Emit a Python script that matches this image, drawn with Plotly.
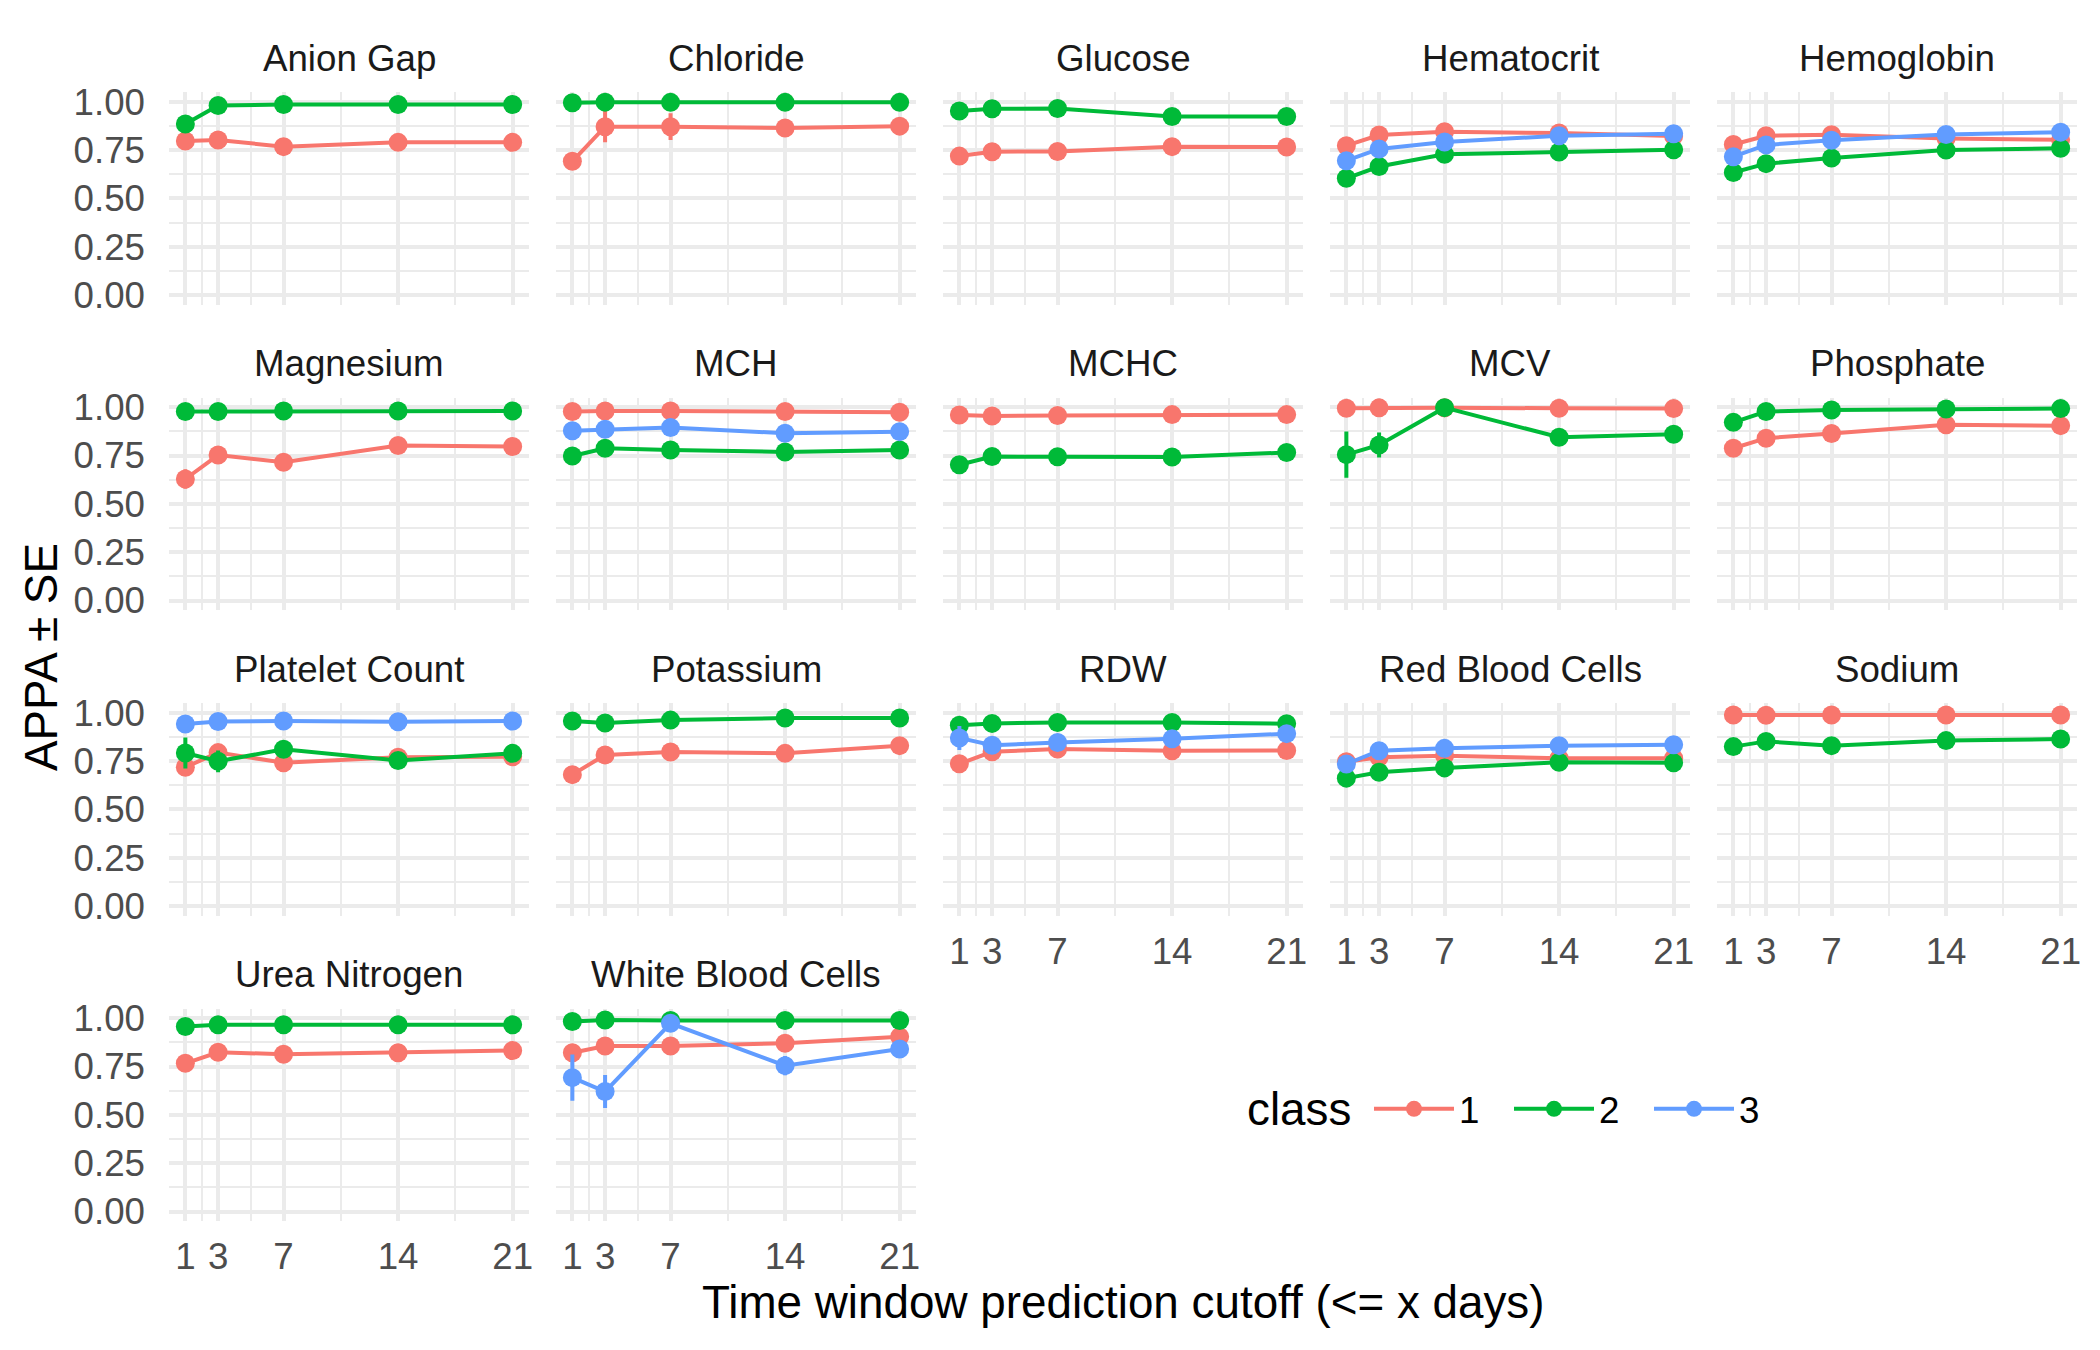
import plotly.graph_objects as go

# ---------------- data ----------------
x_days = [1, 3, 7, 14, 21]
x_tick_labels = ["1", "3", "7", "14", "21"]
y_ticks = [0, 0.25, 0.5, 0.75, 1.0]
y_tick_labels = ["0.00", "0.25", "0.50", "0.75", "1.00"]
class_names = ["1", "2", "3"]
class_colors = ["#F8766D", "#00BA38", "#619CFF"]

panel_titles = ["Anion Gap", "Chloride", "Glucose", "Hematocrit", "Hemoglobin",
                "Magnesium", "MCH", "MCHC", "MCV", "Phosphate",
                "Platelet Count", "Potassium", "RDW", "Red Blood Cells", "Sodium",
                "Urea Nitrogen", "White Blood Cells"]

anion_gap_1 = [0.797, 0.802, 0.768, 0.790, 0.790]
anion_gap_1_se = [0.012, 0.010, 0.012, 0.010, 0.010]
anion_gap_2 = [0.885, 0.981, 0.986, 0.986, 0.986]
anion_gap_2_se = [0.015, 0.005, 0.004, 0.004, 0.004]

chloride_1 = [0.692, 0.871, 0.871, 0.864, 0.874]
chloride_1_se = [0.020, 0.081, 0.069, 0.030, 0.030]
chloride_2 = [0.995, 0.998, 0.997, 0.997, 0.997]
chloride_2_se = [0.003, 0.002, 0.002, 0.002, 0.002]

glucose_1 = [0.719, 0.742, 0.743, 0.768, 0.766]
glucose_1_se = [0.012, 0.010, 0.010, 0.010, 0.010]
glucose_2 = [0.952, 0.964, 0.965, 0.924, 0.924]
glucose_2_se = [0.008, 0.006, 0.006, 0.008, 0.008]

hematocrit_1 = [0.773, 0.828, 0.845, 0.838, 0.823]
hematocrit_1_se = [0.012, 0.010, 0.010, 0.010, 0.010]
hematocrit_2 = [0.604, 0.665, 0.728, 0.740, 0.752]
hematocrit_2_se = [0.015, 0.012, 0.010, 0.010, 0.010]
hematocrit_3 = [0.695, 0.756, 0.792, 0.824, 0.835]
hematocrit_3_se = [0.020, 0.015, 0.012, 0.020, 0.020]

hemoglobin_1 = [0.779, 0.824, 0.830, 0.810, 0.803]
hemoglobin_1_se = [0.012, 0.010, 0.010, 0.010, 0.010]
hemoglobin_2 = [0.634, 0.680, 0.709, 0.750, 0.760]
hemoglobin_2_se = [0.015, 0.012, 0.010, 0.010, 0.010]
hemoglobin_3 = [0.716, 0.777, 0.801, 0.831, 0.843]
hemoglobin_3_se = [0.020, 0.015, 0.012, 0.020, 0.020]

magnesium_1 = [0.629, 0.753, 0.716, 0.802, 0.797]
magnesium_1_se = [0.050, 0.020, 0.015, 0.012, 0.012]
magnesium_2 = [0.978, 0.978, 0.981, 0.981, 0.981]
magnesium_2_se = [0.005, 0.004, 0.004, 0.004, 0.004]

mch_1 = [0.978, 0.981, 0.981, 0.978, 0.974]
mch_1_se = [0.005, 0.004, 0.004, 0.004, 0.004]
mch_2 = [0.748, 0.788, 0.779, 0.769, 0.779]
mch_2_se = [0.012, 0.010, 0.010, 0.010, 0.010]
mch_3 = [0.879, 0.886, 0.895, 0.866, 0.874]
mch_3_se = [0.015, 0.012, 0.012, 0.012, 0.012]

mchc_1 = [0.960, 0.955, 0.957, 0.962, 0.962]
mchc_1_se = [0.006, 0.005, 0.005, 0.005, 0.005]
mchc_2 = [0.703, 0.745, 0.744, 0.743, 0.766]
mchc_2_se = [0.012, 0.010, 0.010, 0.010, 0.010]

mcv_1 = [0.995, 0.997, 0.997, 0.995, 0.993]
mcv_1_se = [0.003, 0.002, 0.002, 0.002, 0.002]
mcv_2 = [0.755, 0.805, 0.998, 0.845, 0.860]
mcv_2_se = [0.120, 0.065, 0.010, 0.020, 0.020]

phosphate_1 = [0.788, 0.840, 0.864, 0.910, 0.905]
phosphate_1_se = [0.012, 0.010, 0.010, 0.010, 0.010]
phosphate_2 = [0.922, 0.978, 0.986, 0.991, 0.993]
phosphate_2_se = [0.010, 0.005, 0.004, 0.004, 0.004]

platelet_1 = [0.718, 0.794, 0.742, 0.770, 0.773]
platelet_1_se = [0.015, 0.020, 0.012, 0.015, 0.015]
platelet_2 = [0.792, 0.749, 0.811, 0.753, 0.790]
platelet_2_se = [0.080, 0.056, 0.030, 0.030, 0.030]
platelet_3 = [0.942, 0.955, 0.957, 0.954, 0.957]
platelet_3_se = [0.010, 0.008, 0.008, 0.008, 0.008]

potassium_1 = [0.680, 0.782, 0.797, 0.790, 0.830]
potassium_1_se = [0.012, 0.010, 0.010, 0.010, 0.010]
potassium_2 = [0.957, 0.947, 0.962, 0.973, 0.973]
potassium_2_se = [0.006, 0.006, 0.005, 0.004, 0.004]

rdw_1 = [0.736, 0.798, 0.812, 0.803, 0.805]
rdw_1_se = [0.012, 0.010, 0.010, 0.010, 0.010]
rdw_2 = [0.935, 0.945, 0.950, 0.950, 0.943]
rdw_2_se = [0.008, 0.006, 0.006, 0.006, 0.006]
rdw_3 = [0.870, 0.832, 0.846, 0.865, 0.892]
rdw_3_se = [0.062, 0.020, 0.015, 0.015, 0.015]

rbc_1 = [0.747, 0.770, 0.778, 0.765, 0.765]
rbc_1_se = [0.015, 0.015, 0.010, 0.010, 0.010]
rbc_2 = [0.662, 0.692, 0.715, 0.744, 0.741]
rbc_2_se = [0.015, 0.012, 0.010, 0.010, 0.010]
rbc_3 = [0.735, 0.804, 0.816, 0.830, 0.835]
rbc_3_se = [0.020, 0.015, 0.012, 0.012, 0.012]

sodium_1 = [0.988, 0.987, 0.988, 0.988, 0.988]
sodium_1_se = [0.003, 0.003, 0.003, 0.003, 0.003]
sodium_2 = [0.825, 0.852, 0.830, 0.856, 0.864]
sodium_2_se = [0.020, 0.012, 0.010, 0.010, 0.010]

urea_1 = [0.767, 0.824, 0.814, 0.822, 0.833]
urea_1_se = [0.012, 0.010, 0.010, 0.010, 0.010]
urea_2 = [0.957, 0.966, 0.966, 0.966, 0.966]
urea_2_se = [0.006, 0.005, 0.005, 0.005, 0.005]

wbc_1 = [0.822, 0.857, 0.857, 0.871, 0.905]
wbc_1_se = [0.012, 0.010, 0.010, 0.010, 0.010]
wbc_2 = [0.983, 0.991, 0.988, 0.988, 0.988]
wbc_2_se = [0.005, 0.004, 0.004, 0.004, 0.004]
wbc_3 = [0.693, 0.621, 0.974, 0.755, 0.841]
wbc_3_se = [0.120, 0.085, 0.020, 0.050, 0.030]

panel_series = [
    [(0, anion_gap_1, anion_gap_1_se), (1, anion_gap_2, anion_gap_2_se)],
    [(0, chloride_1, chloride_1_se), (1, chloride_2, chloride_2_se)],
    [(0, glucose_1, glucose_1_se), (1, glucose_2, glucose_2_se)],
    [(0, hematocrit_1, hematocrit_1_se), (1, hematocrit_2, hematocrit_2_se), (2, hematocrit_3, hematocrit_3_se)],
    [(0, hemoglobin_1, hemoglobin_1_se), (1, hemoglobin_2, hemoglobin_2_se), (2, hemoglobin_3, hemoglobin_3_se)],
    [(0, magnesium_1, magnesium_1_se), (1, magnesium_2, magnesium_2_se)],
    [(0, mch_1, mch_1_se), (1, mch_2, mch_2_se), (2, mch_3, mch_3_se)],
    [(0, mchc_1, mchc_1_se), (1, mchc_2, mchc_2_se)],
    [(0, mcv_1, mcv_1_se), (1, mcv_2, mcv_2_se)],
    [(0, phosphate_1, phosphate_1_se), (1, phosphate_2, phosphate_2_se)],
    [(0, platelet_1, platelet_1_se), (1, platelet_2, platelet_2_se), (2, platelet_3, platelet_3_se)],
    [(0, potassium_1, potassium_1_se), (1, potassium_2, potassium_2_se)],
    [(0, rdw_1, rdw_1_se), (1, rdw_2, rdw_2_se), (2, rdw_3, rdw_3_se)],
    [(0, rbc_1, rbc_1_se), (1, rbc_2, rbc_2_se), (2, rbc_3, rbc_3_se)],
    [(0, sodium_1, sodium_1_se), (1, sodium_2, sodium_2_se)],
    [(0, urea_1, urea_1_se), (1, urea_2, urea_2_se)],
    [(0, wbc_1, wbc_1_se), (1, wbc_2, wbc_2_se), (2, wbc_3, wbc_3_se)],
]

# ---------------- layout geometry ----------------
W, H = 2100, 1350
NCOL = 5
PANEL_LEFT0 = 169.0
PANEL_W = 360.0
COL_PITCH = 387.0
PANEL_TOP0 = 92.1
PANEL_H = 212.7
ROW_PITCH = 305.5

FONT = "Liberation Sans, Arial, Helvetica, sans-serif"
GRID = "#EBEBEB"
TICK_FONT = dict(family=FONT, size=36.7, color="#4D4D4D")

fig = go.Figure()
layout = dict(
    width=W, height=H, autosize=False,
    margin=dict(l=0, r=0, t=0, b=0),
    paper_bgcolor="white", plot_bgcolor="white",
    font=dict(family=FONT),
    showlegend=True,
)
annotations = []
shown_legend = set()

n_panels = len(panel_titles)
for i, title in enumerate(panel_titles):
    r, c = divmod(i, NCOL)
    x0 = PANEL_LEFT0 + COL_PITCH * c
    x1 = x0 + PANEL_W
    ytop = PANEL_TOP0 + ROW_PITCH * r
    ybot = ytop + PANEL_H
    xd = [x0 / W, x1 / W]
    yd = [1 - ybot / H, 1 - ytop / H]
    ax = "" if i == 0 else str(i + 1)
    bottom = (i + NCOL) >= n_panels
    layout["xaxis" + ax] = dict(
        domain=xd, anchor="y" + ax, range=[0, 22],
        tickmode="array", tickvals=x_days, ticktext=x_tick_labels,
        showticklabels=bottom, ticks="", ticklabelstandoff=10,
        tickfont=TICK_FONT,
        showgrid=True, gridcolor=GRID, gridwidth=4,
        minor=dict(tickmode="array", tickvals=[0, 2, 5, 10.5, 17.5, 22],
                   showgrid=True, gridcolor=GRID, gridwidth=2, ticks=""),
        zeroline=False, showline=False, fixedrange=True, automargin=False,
    )
    layout["yaxis" + ax] = dict(
        domain=yd, anchor="x" + ax, range=[-0.05, 1.05],
        tickmode="array", tickvals=y_ticks, ticktext=y_tick_labels,
        showticklabels=(c == 0), ticks="", ticklabelstandoff=23,
        tickfont=TICK_FONT,
        showgrid=True, gridcolor=GRID, gridwidth=4,
        minor=dict(tickmode="array", tickvals=[0.125, 0.375, 0.625, 0.875],
                   showgrid=True, gridcolor=GRID, gridwidth=2, ticks=""),
        zeroline=False, showline=False, fixedrange=True, automargin=False,
    )
    annotations.append(dict(
        text=title, xref="paper", yref="paper",
        x=(x0 + x1) / 2 / W, y=1 - (ytop - 34) / H,
        xanchor="center", yanchor="middle", showarrow=False,
        font=dict(family=FONT, size=36.7, color="#1A1A1A"),
    ))
    for k, vals, se in panel_series[i]:
        show = k not in shown_legend
        shown_legend.add(k)
        fig.add_trace(go.Scatter(
            x=x_days, y=vals,
            error_y=dict(type="data", array=se, visible=True,
                         color=class_colors[k], thickness=4, width=0),
            mode="lines+markers",
            line=dict(color=class_colors[k], width=4),
            marker=dict(color=class_colors[k], size=19),
            name=class_names[k], legendgroup=class_names[k],
            legendrank=k + 1, showlegend=show,
            xaxis="x" + ax, yaxis="y" + ax,
        ))

# axis titles
annotations.append(dict(
    text="Time window prediction cutoff (<= x days)", xref="paper", yref="paper",
    x=(PANEL_LEFT0 + (PANEL_LEFT0 + COL_PITCH * 4 + PANEL_W)) / 2 / W, y=1 - 1302 / H,
    xanchor="center", yanchor="middle", showarrow=False,
    font=dict(family=FONT, size=45.8, color="black"),
))
annotations.append(dict(
    text="APPA ± SE", xref="paper", yref="paper",
    x=41 / W, y=1 - 657 / H, textangle=-90,
    xanchor="center", yanchor="middle", showarrow=False,
    font=dict(family=FONT, size=45.8, color="black"),
))
# legend title
annotations.append(dict(
    text="class", xref="paper", yref="paper",
    x=1245 / W, y=1 - 1109 / H,
    xanchor="left", yanchor="middle", showarrow=False,
    font=dict(family=FONT, size=45.8, color="black"),
))
layout["annotations"] = annotations
layout["legend"] = dict(
    orientation="h", x=1369 / W, xanchor="left", y=1 - 1109 / H, yanchor="middle",
    font=dict(family=FONT, size=36.7, color="black"),
    bgcolor="rgba(0,0,0,0)", itemwidth=80, entrywidth=45, traceorder="normal",
)
fig.update_layout(**layout)
fig.write_html("out.html")
